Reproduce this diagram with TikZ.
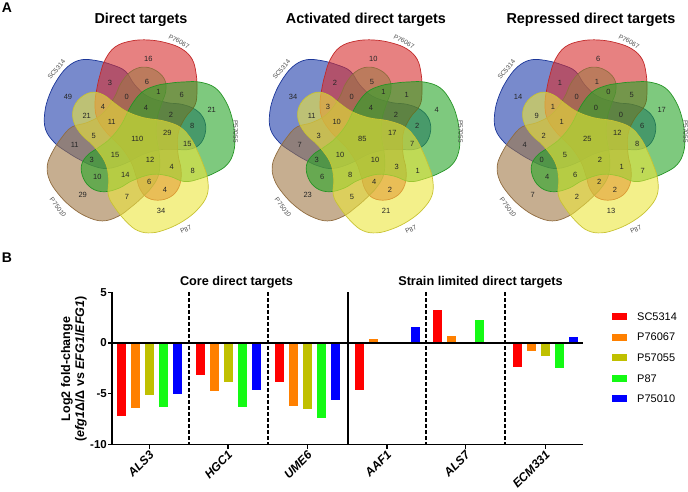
\documentclass[tikz,border=0pt]{standalone}
\usepackage{fontspec}
\setmainfont{Liberation Sans}
\definecolor{vblue}{RGB}{30,60,170}
\definecolor{vred}{RGB}{215,45,45}
\definecolor{vgreen}{RGB}{40,165,40}
\definecolor{vyellow}{RGB}{235,230,60}
\definecolor{vbrown}{RGB}{160,120,70}
\definecolor{bred}{RGB}{255,0,0}
\definecolor{borange}{RGB}{255,128,0}
\definecolor{bolive}{RGB}{192,192,0}
\definecolor{bgreen}{RGB}{20,250,20}
\definecolor{bblue}{RGB}{0,0,255}
\tikzset{
  lobe/.pic={\path[pic actions] plot[smooth cycle, tension=0.65] coordinates {(-37,-61) (-32,-76) (-22,-89) (-6,-95) (12,-96) (30,-93) (45,-87) (55,-77) (59,-63) (60,-46) (58,-31) (48,-18) (41,-2) (41,18) (44,33) (43,48) (36,59) (24,64) (11,62) (3,53) (-1,40) (-6,26) (-16,11) (-30,-3) (-40,-18) (-42,-33) (-40,-48)};},
  vset/.style={fill opacity=0.6, line width=0.7pt},
  panel/.style={font=\fontsize{14}{16}\selectfont\bfseries},
  vtitle/.style={font=\fontsize{14.4}{16}\selectfont\bfseries},
  gtitle/.style={font=\fontsize{12.7}{15}\selectfont\bfseries},
  setlbl/.style={font=\fontsize{6.5}{7}\selectfont, text=black!70, inner sep=0pt},
  cnt/.style={font=\fontsize{7.5}{8}\selectfont, text=black!85, inner sep=0pt},
  ticklbl/.style={font=\fontsize{11.5}{13}\selectfont\bfseries, anchor=east, inner sep=0pt},
  catlbl/.style={font=\fontsize{12}{14}\selectfont\bfseries\itshape, rotate=45, anchor=east, inner sep=1pt},
  ylbl/.style={font=\fontsize{12.5}{14}\selectfont\bfseries, rotate=90, align=center},
  leg/.style={font=\fontsize{11}{13}\selectfont, anchor=west, inner sep=0pt},
  axis/.style={line width=1.2pt},
  sep/.style={line width=1.1pt, dash pattern=on 3.5pt off 2.5pt}
}
\begin{document}
\begin{tikzpicture}[x=1pt, y=-1pt]
\useasboundingbox (0,0) rectangle (688,491);
\node[panel] (pA) at (7,8) {A};
\node[panel] (pB) at (7,258) {B};
% Venn titles
\node[vtitle] (tDirect) at (141,20) {Direct targets};
\node[vtitle] (tAct) at (366,20) {Activated direct targets};
\node[vtitle] (tRep) at (591,20) {Repressed direct targets};
% five sets, one shape turned round the centre
\foreach \dx in {0,225,450} {
  \pic[vset, fill=vblue, draw=vblue!90!black, rotate=72] at (137+\dx,136) {lobe};
  \pic[vset, fill=vred, draw=vred!90!black] at (137+\dx,136) {lobe};
  \pic[vset, fill=vbrown, draw=vbrown!90!black, rotate=144] at (137+\dx,136) {lobe};
  \pic[vset, fill=vgreen, draw=vgreen!90!black, rotate=-72] at (137+\dx,136) {lobe};
  \pic[vset, fill=vyellow, draw=vyellow!85!black, rotate=-144] at (137+\dx,136) {lobe};
}
\foreach \dx/\v in {0/a,225/b,450/c} {
  \node[setlbl, rotate=50] (sc\v) at (56.5+\dx,69.5) {SC5314};
  \node[setlbl, rotate=-28] (pa\v) at (179+\dx,41.5) {P76067};
  \node[setlbl, rotate=-90] (pb\v) at (235.5+\dx,131.5) {P57055};
  \node[setlbl, rotate=25] (pc\v) at (186+\dx,229.5) {P87};
  \node[setlbl, rotate=-53] (pd\v) at (58+\dx,207.5) {P75010};
}
% region counts: direct / activated / repressed
\foreach \x/\y/\a/\b/\c [count=\k] in {
  148.3/59.3/16/10/6, 110/83.3/3/2/1, 147/81.7/6/5/1, 126.7/97/0/0/0,
  158.5/92.3/1/1/0, 181.7/95/6/1/5, 211.7/110/21/4/17, 68/96.7/49/34/14,
  103/107/4/3/1, 146/108.2/4/4/0, 86.7/115.5/21/11/9, 171/114.7/2/2/0,
  111.7/121.5/11/10/1, 192.3/126/8/2/6, 167.3/132.7/29/17/12, 93.7/135.5/5/3/2,
  137.3/139/110/85/25, 74.7/145.2/11/7/4, 115/155.3/15/10/5, 187.3/144/15/7/8,
  91.7/159.5/3/3/0, 150/160/12/10/2, 171.7/167/4/3/1, 192.7/171/8/1/7,
  97.3/176.7/10/6/4, 125.3/175.3/14/8/6, 149.3/181.7/6/4/2, 165/190/4/2/2,
  82.7/194.7/29/23/7, 127/196.7/7/5/2, 161/211.3/34/21/13} {
  \node[cnt] (na\k) at (\x,\y) {\a};
  \node[cnt] (nb\k) at (\x+225,\y) {\b};
  \node[cnt] (nc\k) at (\x+450,\y) {\c};
}
% bar chart
\node[gtitle] (gCore) at (236.5,282) {Core direct targets};
\node[gtitle] (gStrain) at (480.5,282) {Strain limited direct targets};
\node[ylbl] (ylab) at (74,369) {Log2 fold-change\\(\textit{efg1}Δ/Δ vs \textit{EFG1}/\textit{EFG1})};
\foreach \gx/\va/\vb/\vc/\vd/\ve in {
  149.5/-7.15/-6.43/-5.11/-6.33/-4.98, 228/-3.18/-4.75/-3.84/-6.26/-4.59,
  307.5/-3.87/-6.16/-6.46/-7.38/-5.57, 387/-4.62/0.43/0/0.13/1.57,
  465.5/3.25/0.72/0/2.30/-0.13, 545.5/-2.36/-0.82/-1.28/-2.49/0.62} {
  \fill[bred] (\gx-32.5,343) rectangle (\gx-23.5,343-10.15*\va);
  \fill[borange] (\gx-18.5,343) rectangle (\gx-9.5,343-10.15*\vb);
  \fill[bolive] (\gx-4.5,343) rectangle (\gx+4.5,343-10.15*\vc);
  \fill[bgreen] (\gx+9.5,343) rectangle (\gx+18.5,343-10.15*\vd);
  \fill[bblue] (\gx+23.5,343) rectangle (\gx+32.5,343-10.15*\ve);
}
\draw[axis] (112,292.25) -- (112,444.5) -- (583,444.5);
\draw[axis] (112,343) -- (583,343);
\draw[axis] (348,292.25) -- (348,444.5);
\foreach \sx in {189,268,426,505}
  \draw[sep] (\sx,292.25) -- (\sx,444.5);
\foreach \v [count=\i] in {5,0,-5,-10} {
  \draw[axis] (108,343-10.15*\v) -- (112,343-10.15*\v);
  \node[ticklbl] (tk\i) at (107,343-10.15*\v) {\v};
}
\foreach \gx/\nm [count=\g] in {149.5/ALS3, 228/HGC1, 307.5/UME6, 387/AAF1, 465.5/ALS7, 545.5/ECM331} {
  \draw[axis] (\gx,444.5) -- (\gx,448.5);
  \node[catlbl] (cat\g) at (\gx+3,452) {\nm};
}
% legend
\foreach \col/\nm [count=\i] in {bred/SC5314, borange/P76067, bolive/P57055, bgreen/P87, bblue/P75010} {
  \fill[\col] (612,292.4+20.6*\i) rectangle ++(15,7);
  \node[leg] (leg\i) at (637,295.9+20.6*\i) {\nm};
}
\end{tikzpicture}
\end{document}
